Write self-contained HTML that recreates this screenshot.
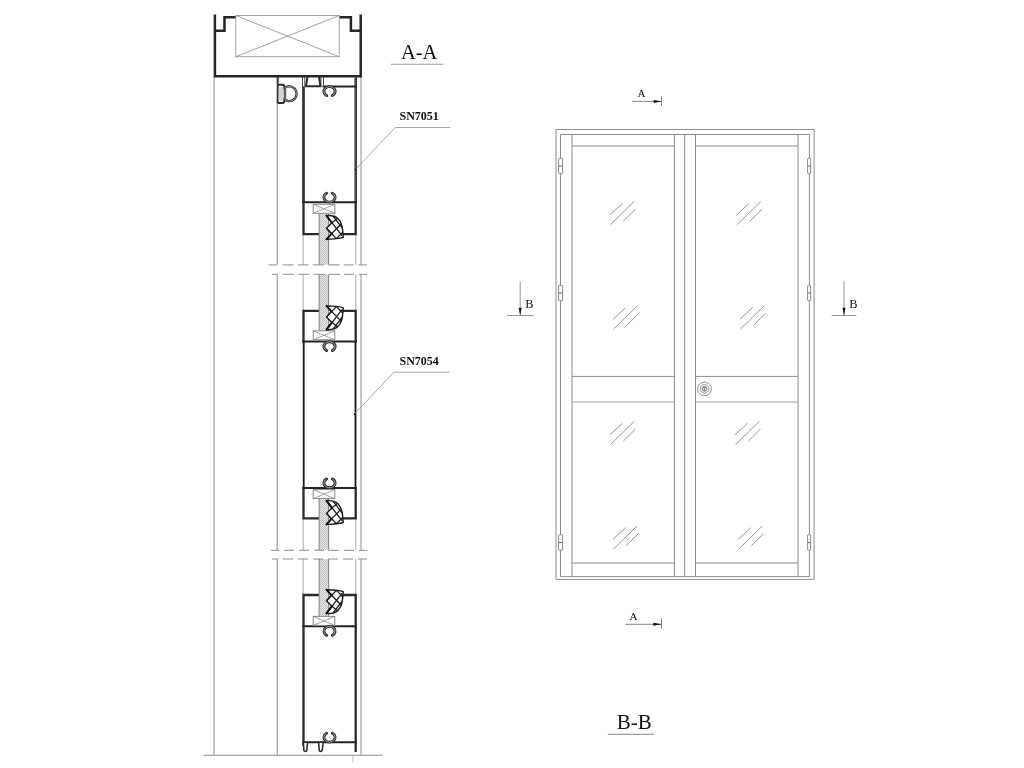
<!DOCTYPE html>
<html>
<head>
<meta charset="utf-8">
<title>Door section drawing</title>
<style>
html,body{margin:0;padding:0;background:#fff;}
body{width:1024px;height:768px;overflow:hidden;font-family:"Liberation Serif",serif;}
svg{display:block;position:absolute;left:0;top:0;}
text{font-family:"Liberation Serif",serif;fill:#111;filter:url(#ga);}
.thin{stroke:#8c8c8c;stroke-width:1;fill:none;}
.lt{stroke:#a8a8a8;stroke-width:1;fill:none;}
.thick{stroke:#262626;stroke-width:2.5;fill:none;stroke-linejoin:miter;stroke-linecap:butt;}
.pk{stroke:#2a2a2a;stroke-width:2.3;fill:none;stroke-linejoin:miter;}
.hz{stroke:#242424;stroke-width:2;fill:none;}
.med{stroke:#2a2a2a;stroke-width:1.4;fill:none;}
.door{stroke:#8c8c8c;stroke-width:1;fill:none;}
.glassmark{stroke:#8a8a8a;stroke-width:0.9;fill:none;}
</style>
</head>
<body>
<svg width="1024" height="768" viewBox="0 0 1024 768">
<defs>
  <filter id="ga" x="-5%" y="-20%" width="110%" height="140%" color-interpolation-filters="sRGB"><feColorMatrix type="saturate" values="0"/></filter>
  <pattern id="hatch" width="2" height="2" patternUnits="userSpaceOnUse">
    <rect width="2" height="2" fill="#e8e8e8"/>
    <rect width="1" height="1" fill="#bcbcbc"/>
    <rect x="1" y="1" width="1" height="1" fill="#c6c6c6"/>
  </pattern>
  <!-- clip, opening downward, hanging from line at y=0 ; centre x=0 -->
  <g id="clipD">
    <path d="M-2.9,9.1 A5.6,4.8 0 1 1 2.9,9.1" stroke="#2a2a2a" stroke-width="2.9" fill="none" stroke-linecap="round"/>
    <path d="M-2.9,9.1 A5.6,4.8 0 1 1 2.9,9.1" stroke="#d0d0d0" stroke-width="0.7" fill="none" stroke-linecap="butt"/>
  </g>
  <!-- X box -->
  <g id="xbox">
    <rect x="0" y="0" width="21.6" height="9" fill="#fff" stroke="#888" stroke-width="1"/>
    <path d="M0,0 L21.6,9 M21.6,0 L0,9" stroke="#8c8c8c" stroke-width="0.8" fill="none"/>
  </g>
  <!-- wedge gasket, pointing right, origin = glass edge x, top tip y -->
  <g id="gasket">
    <path d="M-1.9,0.6 C3,0.2 7,1.2 9.5,3.6 C13,7 14.3,12 14.5,18.8 L14.9,22.4 C11,23.6 4,24.2 -1.9,24.3 L3.1,18.8 L-1.9,13.3 L3.5,7.8 Z" fill="#fff" stroke="#1c1c1c" stroke-width="1.4" stroke-linejoin="round"/>
    <path d="M-1.9,0.6 L13.8,20.8 M-1.9,13.3 L8,23.6 M4.6,1 L14,13.2 M9.3,3.2 L3.5,7.8 M13,8.8 L3.1,18.8 M14.6,17 L8,23.6" stroke="#1c1c1c" stroke-width="1.3" fill="none"/>
    <path d="M-1.9,0.6 L3.5,7.8 M3.1,18.8 L-1.9,24.3" stroke="#111" stroke-width="2" fill="none" stroke-linecap="round"/>
  </g>
  <!-- glass marks -->
  <g id="gm">
    <path d="M0,13.6 L12.7,1.9 M0.5,23.4 L24.4,0 M13.3,19.9 L25.5,7.8" class="glassmark"/>
  </g>
  <!-- hinge -->
  <g id="hinge">
    <rect x="0" y="0" width="4" height="15.4" rx="0.8" fill="#fff" stroke="#7c7c7c" stroke-width="0.9"/>
    <path d="M0,7.8 L4,7.8" stroke="#666" stroke-width="1"/>
  </g>
  <g id="hingeR">
    <rect x="0" y="0" width="3.1" height="15.4" rx="0.8" fill="#fff" stroke="#7c7c7c" stroke-width="0.9"/>
    <path d="M0,7.8 L3.1,7.8" stroke="#666" stroke-width="1"/>
  </g>
</defs>
<rect width="1024" height="768" fill="#fff"/>

<!-- ============ LEFT : section A-A ============ -->
<g id="sectionAA">
  <!-- long thin verticals -->
  <path class="thin" d="M214,77 V755 M361,77 V264.8 M361,274.4 V550.3 M361,559 V755 M277.2,103 V264.8 M277.2,274.4 V550.3 M277.2,559 V755"/>
  <path class="thin" d="M203.5,755.3 H383"/>
  <!-- thin continuation of profile edges between sections -->
  <path class="lt" d="M303.2,234 V264.8 M303.2,274.4 V311 M355.8,234 V264.8 M355.8,274.4 V311 M303.2,518.3 V550.3 M303.2,559 V595 M355.8,518.3 V550.3 M355.8,559 V595"/>

  <!-- glass strips -->
  <rect x="319" y="213.5" width="9.4" height="51.3" fill="url(#hatch)"/>
  <rect x="319" y="274.4" width="9.4" height="56.4" fill="url(#hatch)"/>
  <rect x="319" y="498.5" width="9.4" height="51.8" fill="url(#hatch)"/>
  <rect x="319" y="559" width="9.4" height="57.4" fill="url(#hatch)"/>
  <path stroke="#8a8a8a" stroke-width="1.1" fill="none" d="M319.1,213.5 V264.8 M328.6,213.5 V264.8 M319.1,274.4 V330.8 M328.6,274.4 V330.8 M319.1,498.5 V550.3 M328.6,498.5 V550.3 M319.1,559 V616.4 M328.6,559 V616.4"/>

  <!-- break lines -->
  <path d="M268.6,264.9 H367" stroke="#8c8c8c" stroke-width="1" stroke-dasharray="8,6,11,4,11,4,11,5,11,4,10,5,9,0" fill="none"/>
  <path d="M272,274.3 H367" stroke="#8c8c8c" stroke-width="1" stroke-dasharray="6,5,11,4,11,5,11,4,11,4,10,5,8,0" fill="none"/>
  <path d="M271,550.3 H367" stroke="#8c8c8c" stroke-width="1" stroke-dasharray="8,5,10,5,10,5,10,5,10,5,10,5,9,0" fill="none"/>
  <path d="M272,559 H367" stroke="#8c8c8c" stroke-width="1" stroke-dasharray="6,5,10,5,10,5,10,5,10,5,10,5,8,0" fill="none"/>

  <!-- top head box -->
  <path class="thick" d="M214.9,14.4 V76.3 H360.7 V14.6"/>
  <path class="thick" d="M214.9,30.8 H224.5 V17.3 H236"/>
  <path class="thick" d="M360.7,30.8 H350.9 V17.3 H339.2"/>
  <rect x="235.8" y="15.5" width="103.4" height="41.2" fill="none" stroke="#9a9a9a" stroke-width="0.9"/>
  <path d="M235.8,15.5 L339.2,56.7 M339.2,15.5 L235.8,56.7" stroke="#8a8a8a" stroke-width="0.8" fill="none"/>

  <!-- D gasket -->
  <path d="M277.7,76.3 V103.4" stroke="#333" stroke-width="2" fill="none"/>
  <rect x="278.6" y="87" width="5" height="13.5" fill="#d4d4d4"/>
  <path d="M278,84.8 H282.6 Q284.4,84.8 284.4,87 V89.2 M284.4,98 V100.6 Q284.4,103 282.6,103 H278" stroke="#2a2a2a" stroke-width="1.9" fill="none"/>
  <path d="M285,87.6 A7.4,7.4 0 1 1 285,99.8 Z" fill="#fff" stroke="#333" stroke-width="2.4"/>
  <path d="M285,87.6 A7.4,7.4 0 1 1 285,99.8 Z" fill="none" stroke="#ccc" stroke-width="0.6"/>

  <!-- top profile SN7051 -->
  <path d="M303.5,86.4 V202.3" stroke="#303030" stroke-width="2.7" fill="none"/>
  <path d="M355.7,76.3 V202.3" stroke="#383838" stroke-width="2.6" fill="none"/>
  <path d="M355.7,77.5 V201" stroke="#777" stroke-width="0.4" fill="none"/>
  <path class="pk" d="M303.5,201.3 V234.2 H318.8 M343,234.2 H355.7 V201.3"/>
  <path class="hz" d="M302.2,202.3 H357"/>
  <path class="hz" d="M322.5,86.4 H357"/>
  <!-- hollow cap pieces -->
  <path d="M302.5,76.3 V87.5 M304.8,76.3 V86.4 M320.9,76.3 V86.4 M323.5,76.3 V86.4" stroke="#333" stroke-width="0.9" fill="none"/>
  <path d="M307.4,77 L306,86.2 H320.4 L319,77" stroke="#2a2a2a" stroke-width="2" fill="none"/>
  <use href="#clipD" x="329.5" y="86.4"/>
  <use href="#clipD" transform="translate(329.5,202.3) scale(1,-1)"/>
  <use href="#xbox" x="313.2" y="204.3"/>
  <use href="#gasket" x="328.4" y="215"/>

  <!-- middle profile SN7054 -->
  <path class="pk" d="M318.8,310.8 H303.5 V342.5 M343,310.8 H355.7 V342.5"/>
  <path class="pk" d="M318.8,518.3 H303.5 V487 M343,518.3 H355.7 V487"/>
  <path d="M303.7,341.5 V488 M355.5,341.5 V488" stroke="#161616" stroke-width="1.8" fill="none"/>
  <path class="hz" d="M302.4,341.5 H356.8 M302.4,488 H356.8"/>
  <use href="#xbox" x="313.2" y="330.8"/>
  <use href="#gasket" transform="translate(328.4,330.2) scale(1,-1)"/>
  <use href="#clipD" x="329.5" y="341.5"/>
  <use href="#clipD" transform="translate(329.5,488) scale(1,-1)"/>
  <use href="#xbox" x="313.2" y="489.6"/>
  <use href="#gasket" x="328.4" y="500.1"/>

  <!-- bottom profile -->
  <path class="pk" d="M318.8,595 H303.5 V746 M343,595 H355.7 V752"/>
  <path class="hz" d="M302.4,626.2 H356.8 M302.4,742.3 H356.8"/>
  <use href="#xbox" x="313.2" y="616.4"/>
  <use href="#gasket" transform="translate(328.4,614) scale(1,-1)"/>
  <use href="#clipD" x="329.5" y="626.2"/>
  <use href="#clipD" transform="translate(329.5,742.3) scale(1,-1)"/>
  <path d="M303.4,743 L303.9,750.6 Q305.2,752.3 306.7,750.6 L307.5,743 M318.7,743 L319.3,750.6 Q320.8,752.3 322.2,750.6 L323.1,743" stroke="#2e2e2e" stroke-width="1.6" fill="#fff" stroke-linejoin="round"/>
  <path d="M353,756 V762.5" stroke="#b5b5b5" stroke-width="0.9" fill="none"/>

  <!-- leaders -->
  <path class="lt" d="M355.8,169.1 L395.1,127.5 H450.2"/>
  <circle cx="355.8" cy="169.3" r="1" fill="#111"/>
  <path class="lt" d="M354.6,413.9 L393.9,372.2 H449.6"/>
  <circle cx="354.8" cy="414" r="1" fill="#111"/>
  <text x="399.5" y="119.6" font-size="12" font-weight="bold">SN7051</text>
  <text x="399.5" y="365.2" font-size="12" font-weight="bold">SN7054</text>

  <text transform="translate(400.9,58.65) scale(0.935,0.97)" font-size="22">A-A</text>
  <path d="M391,64.2 H443.3" stroke="#999" stroke-width="1.1"/>
</g>

<!-- ============ RIGHT : elevation B-B ============ -->
<g id="elevation">
  <!-- outer frame -->
  <path class="door" d="M556,579.4 V129.5 H814.1 V579.4 Z"/>
  <path class="door" d="M560.5,576.6 V134.5 H809.4 V576.6"/>
  <path class="door" d="M560.5,576.6 H809.4"/>
  <!-- leaves -->
  <path class="door" d="M572,134.5 V576.6 M674.4,134.5 V576.6 M684.7,134.5 V576.6 M695.5,134.5 V576.6 M798,134.5 V576.6"/>
  <path class="door" d="M572,146 H674.4 M695.5,146 H798 M572,563 H674.4 M695.5,563 H798"/>
  <path class="door" d="M572,376.4 H674.4 M695.5,376.4 H798"/>
  <path d="M572,402 H674.4 M695.5,402 H798" stroke="#a2a2a2" stroke-width="1.2" fill="none"/>
  <!-- lock -->
  <circle cx="704.5" cy="388.9" r="6.9" fill="#fff" stroke="#777" stroke-width="0.8"/>
  <circle cx="704.5" cy="388.9" r="4.3" fill="none" stroke="#777" stroke-width="0.8"/>
  <circle cx="704.5" cy="388.9" r="2.4" fill="#ddd" stroke="#666" stroke-width="0.8"/>
  <path d="M703.2,387.6 H705.8 M704.5,387.6 V390.2 M703.4,390.2 H705.6" stroke="#555" stroke-width="0.6"/>
  <!-- hinges -->
  <use href="#hinge" x="558.6" y="158.3"/>
  <use href="#hingeR" x="807.6" y="158.3"/>
  <use href="#hinge" x="558.6" y="285.3"/>
  <use href="#hingeR" x="807.6" y="285.3"/>
  <use href="#hinge" x="558.6" y="534.8"/>
  <use href="#hingeR" x="807.6" y="534.8"/>
  <!-- glass marks -->
  <use href="#gm" x="609.8" y="201.4"/>
  <use href="#gm" x="736.5" y="201.4"/>
  <use href="#gm" x="613" y="305.8"/>
  <use href="#gm" x="740" y="305.6"/>
  <use href="#gm" x="610" y="421.2"/>
  <use href="#gm" x="735" y="421.2"/>
  <use href="#gm" x="613" y="525.7"/>
  <use href="#gm" x="738" y="525.9"/>

  <!-- section markers A -->
  <path d="M632.3,101.4 H661.6 M661.5,96.1 V105.8" stroke="#777" stroke-width="0.9" fill="none"/>
  <path d="M653.7,99.9 L661.6,101.4 L653.7,102.9 Z" fill="#111"/>
  <text x="637.6" y="97" font-size="11">A</text>
  <path d="M625.3,624.3 H661.6 M661.5,618.4 V628.7" stroke="#777" stroke-width="0.9" fill="none"/>
  <path d="M653.4,622.8 L661.6,624.3 L653.4,625.8 Z" fill="#111"/>
  <text x="629.6" y="619.6" font-size="11">A</text>
  <!-- section markers B -->
  <path d="M520.2,281.4 V315.4 M507,315.5 H533.7" stroke="#888" stroke-width="0.9" fill="none"/>
  <path d="M518.7,307.8 L520.2,315.6 L521.7,307.8 Z" fill="#111"/>
  <text x="525.3" y="307.9" font-size="12.4">B</text>
  <path d="M844,280.9 V315.4 M831.7,315.5 H856.3" stroke="#888" stroke-width="0.9" fill="none"/>
  <path d="M842.5,307.8 L844,315.6 L845.5,307.8 Z" fill="#111"/>
  <text x="849.3" y="307.9" font-size="12.4">B</text>

  <text transform="translate(616.8,729.4) scale(0.955,0.97)" font-size="22">B-B</text>
  <path d="M607.8,734.3 H653.9" stroke="#888" stroke-width="1"/>
</g>
</svg>
</body>
</html>
